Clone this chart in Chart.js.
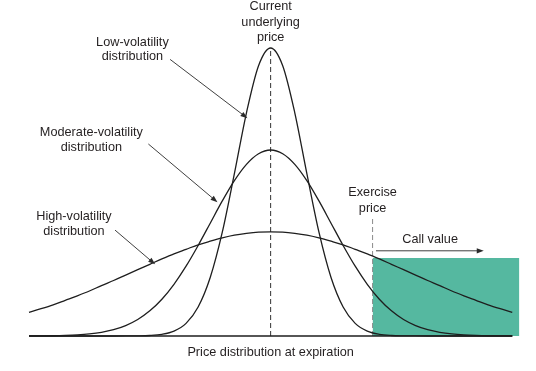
<!DOCTYPE html>
<html><head><meta charset="utf-8">
<script src="https://cdn.jsdelivr.net/npm/chart.js@4"></script>
<style>html,body{margin:0;padding:0;background:#fff;}canvas{display:block;}</style>
</head><body>
<canvas id="c" width="536" height="371"></canvas>
<script>
// Price grid (x) and distribution heights
const priceX = [0,2.5,5,7.5,10,12.5,15,17.5,20,22.5,25,27.5,30,32.5,35,37.5,40,42.5,45,47.5,50,52.5,55,57.5,60,62.5,65,67.5,70,72.5,75,77.5,80,82.5,85,87.5,90,92.5,95,97.5,100];
const lowVol = [0,0,0,0,0,0,0,0,0.01,0.04,0.16,0.55,1.62,4.22,9.67,19.5,34.6,54.1,74.4,90.1,96,90.1,74.4,54.1,34.6,19.5,9.67,4.22,1.62,0.55,0.16,0.04,0.01,0,0,0,0,0,0,0,0];
const modVol = [0.02,0.05,0.09,0.19,0.37,0.69,1.23,2.11,3.48,5.51,8.39,12.27,17.24,23.27,30.18,37.6,45.02,51.79,57.23,60.77,62,60.77,57.23,51.79,45.02,37.6,30.18,23.27,17.24,12.27,8.39,5.51,3.48,2.11,1.23,0.69,0.37,0.19,0.09,0.05,0.02];
const highVol = [7.9,9.1,10.4,11.9,13.4,15.0,16.8,18.5,20.3,22.1,23.9,25.7,27.4,28.9,30.4,31.6,32.7,33.6,34.2,34.6,34.7,34.6,34.2,33.6,32.7,31.6,30.4,28.9,27.4,25.7,23.9,22.1,20.3,18.5,16.8,15.0,13.4,11.9,10.4,9.1,7.9];
const currentPrice = 50;
const exercisePrice = 71.1;
const callRange = [71.1, 101.5];
const callHeight = 26;
const axisRange = [0, 100];

const toPts = ys => priceX.map((x,i)=>({x, y: ys[i]}));
const INK = '#1e1e1e';
const curve = (label, ys) => ({label, data: toPts(ys), borderColor: INK, borderWidth: 1.3, pointRadius: 0, fill: false, cubicInterpolationMode: 'monotone', clip: false, order: 1});

const annotations = {
  id: 'annotations',
  afterDatasetsDraw(chart) {
    const {ctx, scales:{x, y}} = chart;
    const P = (ux, uy) => [x.getPixelForValue(ux), y.getPixelForValue(uy)];
    ctx.save();
    ctx.fillStyle = '#231f20';
    ctx.font = '12.7px "Liberation Sans", Arial, sans-serif';
    ctx.textAlign = 'center';
    ctx.textBaseline = 'middle';
    const text = (lines, ux, uy0, uy1) => {
      lines.forEach((t, i) => {
        const uy = lines.length === 1 ? uy0 : uy0 + (uy1 - uy0) * i / (lines.length - 1);
        const [px, py] = P(ux, uy);
        ctx.fillText(t, px, py);
      });
    };
    const arrow = (ux0, uy0, ux1, uy1) => {
      const [x0, y0] = P(ux0, uy0), [x1, y1] = P(ux1, uy1);
      const a = Math.atan2(y1 - y0, x1 - x0), L = 7, W = 2.6;
      ctx.strokeStyle = '#2a2a2a'; ctx.lineWidth = 0.9;
      ctx.beginPath(); ctx.moveTo(x0, y0);
      ctx.lineTo(x1 - Math.cos(a) * L * 0.8, y1 - Math.sin(a) * L * 0.8); ctx.stroke();
      ctx.fillStyle = '#2a2a2a';
      ctx.beginPath(); ctx.moveTo(x1, y1);
      ctx.lineTo(x1 - Math.cos(a) * L - Math.sin(a) * W, y1 - Math.sin(a) * L + Math.cos(a) * W);
      ctx.lineTo(x1 - Math.cos(a) * L + Math.sin(a) * W, y1 - Math.sin(a) * L - Math.cos(a) * W);
      ctx.closePath(); ctx.fill();
      ctx.fillStyle = '#231f20';
    };
    text(['Current', 'underlying', 'price'], currentPrice, 109.7, 99.4);
    text(['Low-volatility', 'distribution'], 21.4, 97.8, 93.1);
    arrow(29.2, 92.2, 45.2, 72.6);
    text(['Moderate-volatility', 'distribution'], 12.9, 67.8, 63.0);
    arrow(24.7, 64.0, 39.0, 44.6);
    text(['High-volatility', 'distribution'], 9.3, 39.8, 34.8);
    arrow(17.8, 35.3, 26.1, 23.9);
    text(['Exercise', 'price'], exercisePrice, 47.8, 42.6);
    text(['Call value'], 83.0, 32.3);
    arrow(71.8, 28.4, 94.1, 28.4);
    text(['Price distribution at expiration'], currentPrice, -5.6);
    ctx.restore();
  }
};

new Chart(document.getElementById('c'), {
  type: 'line',
  data: {
    datasets: [
      curve('Low-volatility distribution', lowVol),
      curve('Moderate-volatility distribution', modVol),
      curve('High-volatility distribution', highVol),
      {label: 'baseline', data: [{x: axisRange[0], y: 0}, {x: axisRange[1], y: 0}], borderColor: INK, borderWidth: 1.6, pointRadius: 0, clip: false, order: 2},
      {label: 'current', data: [{x: currentPrice, y: 0}, {x: currentPrice, y: 96}], borderColor: '#333', borderWidth: 1, borderDash: [5, 3], pointRadius: 0, clip: false, order: 3},
      {label: 'exercise', data: [{x: exercisePrice, y: 0}, {x: exercisePrice, y: 39.5}], borderColor: '#8a8a8a', borderWidth: 1, borderDash: [5, 3], pointRadius: 0, clip: false, order: 3},
      {label: 'Call value', data: [{x: callRange[0], y: callHeight}, {x: callRange[1], y: callHeight}], borderWidth: 0, borderColor: 'rgba(0,0,0,0)', backgroundColor: '#55b8a0', fill: 'origin', pointRadius: 0, clip: false, order: 10}
    ]
  },
  options: {
    responsive: false,
    animation: false,
    layout: {padding: {left: 29, right: 16.5, top: 36, bottom: 35}},
    plugins: {legend: {display: false}, tooltip: {enabled: false}},
    scales: {
      x: {type: 'linear', min: 0, max: 101.5, display: false},
      y: {type: 'linear', min: 0, max: 100, display: false}
    }
  },
  plugins: [annotations]
});
</script>
</body></html>
